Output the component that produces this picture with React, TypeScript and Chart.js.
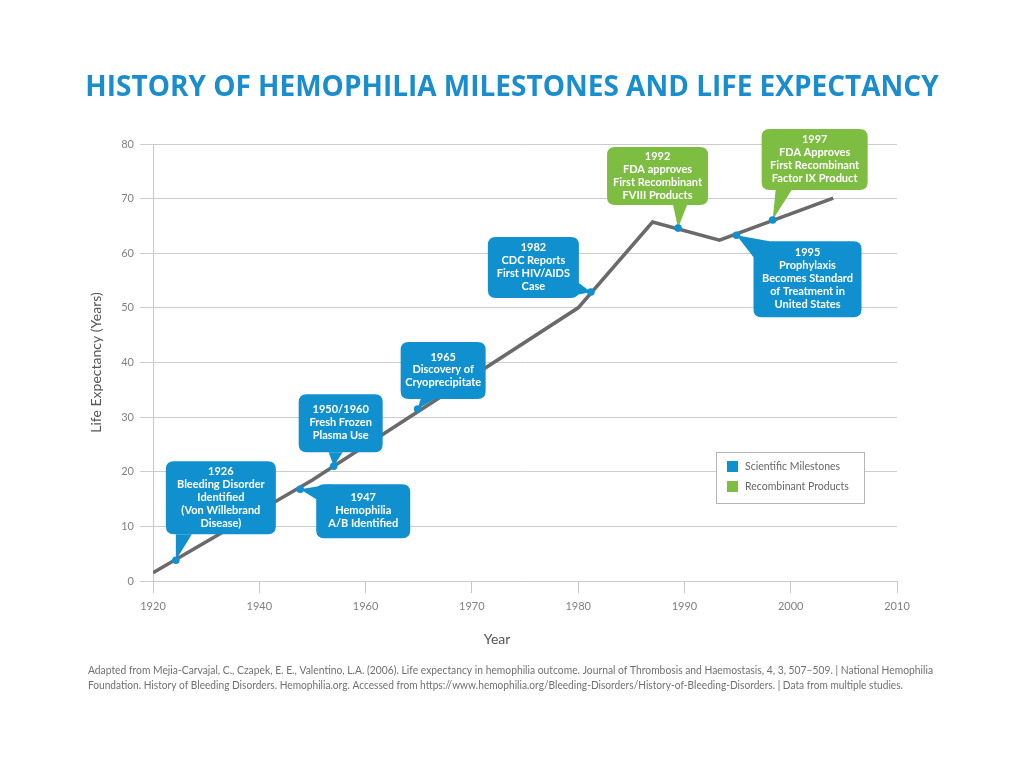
import React, { useEffect, useRef } from "react";
import { Chart, registerables } from "chart.js";

Chart.register(...registerables);

// ---- data ----
const tickYears = [1920, 1940, 1960, 1970, 1980, 1990, 2000, 2010];

const lineYears = [1920, 1950, 1980, 1987, 1993.3, 2004];
const lifeExpectancy = [1.5, 18.5, 50, 65.7, 62.4, 70.1];

const milestoneYears = [1924.3, 1947.7, 1954, 1964.9, 1981.2, 1989.4, 1994.9, 1998.3];
const milestoneValues = [3.8, 16.8, 21.0, 31.5, 52.9, 64.6, 63.3, 66.1];
const milestoneKinds = [
  "science",
  "science",
  "science",
  "science",
  "science",
  "recombinant",
  "science",
  "recombinant",
];
const milestoneLabels = [
  ["1926", "Bleeding Disorder", "Identified", "(Von Willebrand", "Disease)"],
  ["1947", "Hemophilia", "A/B Identified"],
  ["1950/1960", "Fresh Frozen", "Plasma Use"],
  ["1965", "Discovery of", "Cryoprecipitate"],
  ["1982", "CDC Reports", "First HIV/AIDS", "Case"],
  ["1992", "FDA approves", "First Recombinant", "FVIII Products"],
  ["1995", "Prophylaxis", "Becomes Standard", "of Treatment in", "United States"],
  ["1997", "FDA Approves", "First Recombinant", "Factor IX Product"],
];

const legendLabels = ["Scientific Milestones", "Recombinant Products"];
const titleText = "HISTORY OF HEMOPHILIA MILESTONES AND LIFE EXPECTANCY";
const yAxisTitle = "Life Expectancy (Years)";
const xAxisTitle = "Year";
const footerLines = [
  "Adapted from Mejia-Carvajal, C., Czapek, E. E., Valentino, L.A. (2006). Life expectancy in hemophilia outcome. Journal of Thrombosis and Haemostasis, 4, 3, 507–509. | National Hemophilia",
  "Foundation. History of Bleeding Disorders. Hemophilia.org. Accessed from https://www.hemophilia.org/Bleeding-Disorders/History-of-Bleeding-Disorders. | Data from multiple studies.",
];

// ---- styling / layout (not data) ----
const BLUE = "#1190d0";
const GREEN = "#7dbd42";
const kindColor: Record<string, string> = { science: BLUE, recombinant: GREEN };
const footerWidths = [845, 815];

// callout box placement relative to the marker pixel, tail base points relative to box
const calloutLayout: { dx: number; dy: number; w: number; h: number; tail: number[][] }[] = [
  { dx: -10, dy: -99, w: 110, h: 73, tail: [[10, 73], [26, 73]] },
  { dx: 16, dy: -5, w: 94, h: 54, tail: [[0, 15], [15, 0]] },
  { dx: -35, dy: -72, w: 84, h: 58, tail: [[30, 58], [44, 58]] },
  { dx: -17, dy: -67, w: 85, h: 57, tail: [[20, 57], [34, 57]] },
  { dx: -103, dy: -55, w: 91, h: 61, tail: [[74, 61], [91, 46]] },
  { dx: -71, dy: -81, w: 101, h: 58, tail: [[66, 58], [80, 58]] },
  { dx: 17, dy: 6, w: 108, h: 76, tail: [[0, 16], [16, 0]] },
  { dx: -11, dy: -91, w: 106, h: 61, tail: [[14, 61], [30, 61]] },
];

function yearToPos(year: number): number {
  for (let i = 0; i < tickYears.length - 1; i++) {
    const a = tickYears[i];
    const b = tickYears[i + 1];
    if (year <= b || i === tickYears.length - 2) {
      return i + (year - a) / (b - a);
    }
  }
  return 0;
}

function roundRect(ctx: CanvasRenderingContext2D, x: number, y: number, w: number, h: number, r: number) {
  ctx.beginPath();
  ctx.moveTo(x + r, y);
  ctx.lineTo(x + w - r, y);
  ctx.quadraticCurveTo(x + w, y, x + w, y + r);
  ctx.lineTo(x + w, y + h - r);
  ctx.quadraticCurveTo(x + w, y + h, x + w - r, y + h);
  ctx.lineTo(x + r, y + h);
  ctx.quadraticCurveTo(x, y + h, x, y + h - r);
  ctx.lineTo(x, y + r);
  ctx.quadraticCurveTo(x, y, x + r, y);
  ctx.closePath();
}

const calloutPlugin = {
  id: "callouts",
  beforeDatasetsDraw(chart: any) {
    // legend box
    const ctx: CanvasRenderingContext2D = chart.ctx;
    const ca = chart.chartArea;
    const lx = ca.right - 181;
    const ly = ca.top + 308;
    ctx.save();
    ctx.fillStyle = "#ffffff";
    ctx.fillRect(lx, ly, 148, 51);
    ctx.strokeStyle = "#b5b5b5";
    ctx.lineWidth = 1;
    ctx.strokeRect(lx + 0.5, ly + 0.5, 148, 51);
    const colors = [BLUE, GREEN];
    ctx.font = "10.5px Lato";
    ctx.textBaseline = "middle";
    ctx.textAlign = "left";
    legendLabels.forEach((t, i) => {
      const yy = ly + 14 + i * 20;
      ctx.fillStyle = colors[i];
      ctx.fillRect(lx + 11, yy - 5, 11, 11);
      ctx.fillStyle = "#666666";
      ctx.fillText(t, lx + 29, yy + 0.5);
    });
    ctx.restore();
  },
  beforeDatasetDraw(chart: any, args: any) {
    if (args.index !== 0) return;
    const ctx: CanvasRenderingContext2D = chart.ctx;
    const xs = chart.scales.x;
    const ys = chart.scales.y;
    ctx.save();
    milestoneYears.forEach((yr, i) => {
      const px = xs.getPixelForValue(yearToPos(yr));
      const py = ys.getPixelForValue(milestoneValues[i]);
      const L = calloutLayout[i];
      const bx = px + L.dx;
      const by = py + L.dy;
      ctx.fillStyle = kindColor[milestoneKinds[i]];
      roundRect(ctx, bx, by, L.w, L.h, 8);
      ctx.fill();
      ctx.beginPath();
      ctx.moveTo(px, py);
      ctx.lineTo(bx + L.tail[0][0], by + L.tail[0][1]);
      ctx.lineTo(bx + L.tail[1][0], by + L.tail[1][1]);
      ctx.closePath();
      ctx.fill();
      // text
      const lines = milestoneLabels[i];
      const lh = 12.9;
      ctx.fillStyle = "#ffffff";
      ctx.font = "bold 11px Lato";
      ctx.textAlign = "center";
      ctx.textBaseline = "middle";
      const cy = by + L.h / 2 - 0.5;
      const start = cy - ((lines.length - 1) * lh) / 2;
      lines.forEach((t, k) => {
        ctx.fillText(t, bx + L.w / 2, start + k * lh);
      });
    });
    ctx.restore();
  },
  afterDraw(chart: any) {
    const ctx: CanvasRenderingContext2D = chart.ctx;
    const ca = chart.chartArea;
    ctx.save();
    // title
    ctx.fillStyle = "#1a8dcf";
    ctx.font = "bold 28px 'Open Sans'";
    ctx.textAlign = "center";
    ctx.textBaseline = "alphabetic";
    ctx.fillText(titleText, 512, 96);
    // x axis title
    ctx.fillStyle = "#555555";
    ctx.font = "14px Lato";
    ctx.textBaseline = "middle";
    ctx.fillText(xAxisTitle, ca.left + 344, ca.bottom + 58);
    // footer
    ctx.fillStyle = "#707070";
    ctx.font = "11px Lato";
    ctx.textAlign = "left";
    ctx.textBaseline = "alphabetic";
    footerLines.forEach((line, i) => {
      const w = ctx.measureText(line).width;
      ctx.save();
      ctx.translate(88, 0);
      ctx.scale(footerWidths[i] / w, 1);
      ctx.fillText(line, 0, 674 + i * 15);
      ctx.restore();
    });
    ctx.restore();
  },
};

export default function App() {
  const ref = useRef<HTMLCanvasElement | null>(null);
  useEffect(() => {
    if (!ref.current) return;
    const chart = new Chart(ref.current, {
      type: "line",
      data: {
        datasets: [
          {
            type: "scatter",
            label: "Milestones",
            data: milestoneYears.map((y, i) => ({ x: yearToPos(y), y: milestoneValues[i] })),
            backgroundColor: BLUE,
            borderColor: BLUE,
            pointRadius: 3.8,
            pointBorderWidth: 0,
            showLine: false,
          } as any,
          {
            type: "line",
            label: "Life expectancy",
            data: lineYears.map((y, i) => ({ x: yearToPos(y), y: lifeExpectancy[i] })),
            borderColor: "#6a6a6c",
            borderWidth: 3.6,
            pointRadius: 0,
            tension: 0,
            fill: false,
            borderJoinStyle: "miter",
          } as any,
        ],
      },
      options: {
        responsive: false,
        animation: false,
        devicePixelRatio: 1,
        layout: { padding: { left: 85, top: 144, right: 127, bottom: 111 } },
        plugins: { legend: { display: false }, tooltip: { enabled: false } },
        scales: {
          x: {
            type: "linear",
            min: 0,
            max: 7,
            ticks: {
              stepSize: 1,
              autoSkip: false,
              maxRotation: 0,
              callback: (v: any) => String(tickYears[v] ?? ""),
              color: "#808080",
              font: { family: "Lato", size: 11 },
              padding: 7,
            },
            grid: { drawOnChartArea: false, drawTicks: true, tickLength: 12, color: "#c8c8c8" },
            border: { color: "#c8c8c8" },
            title: { display: false },
            afterFit: (s: any) => {
              s.height = 70;
            },
          },
          y: {
            min: 0,
            max: 80,
            ticks: { stepSize: 10, color: "#808080", font: { family: "Lato", size: 11 }, padding: 6 },
            grid: { color: "#cccccc", tickLength: 13 },
            border: { color: "#c8c8c8" },
            title: { display: true, text: yAxisTitle, color: "#555555", font: { family: "Lato", size: 14 }, padding: 3 },
            afterFit: (s: any) => {
              s.width = 68;
            },
          },
        },
      },
      plugins: [calloutPlugin],
    });
    return () => chart.destroy();
  }, []);
  return (
    <div style={{ position: "absolute", left: 0, top: 0, width: 1024, height: 762, background: "#fff" }}>
      <canvas ref={ref} width={1024} height={762} style={{ display: "block" }} />
    </div>
  );
}
